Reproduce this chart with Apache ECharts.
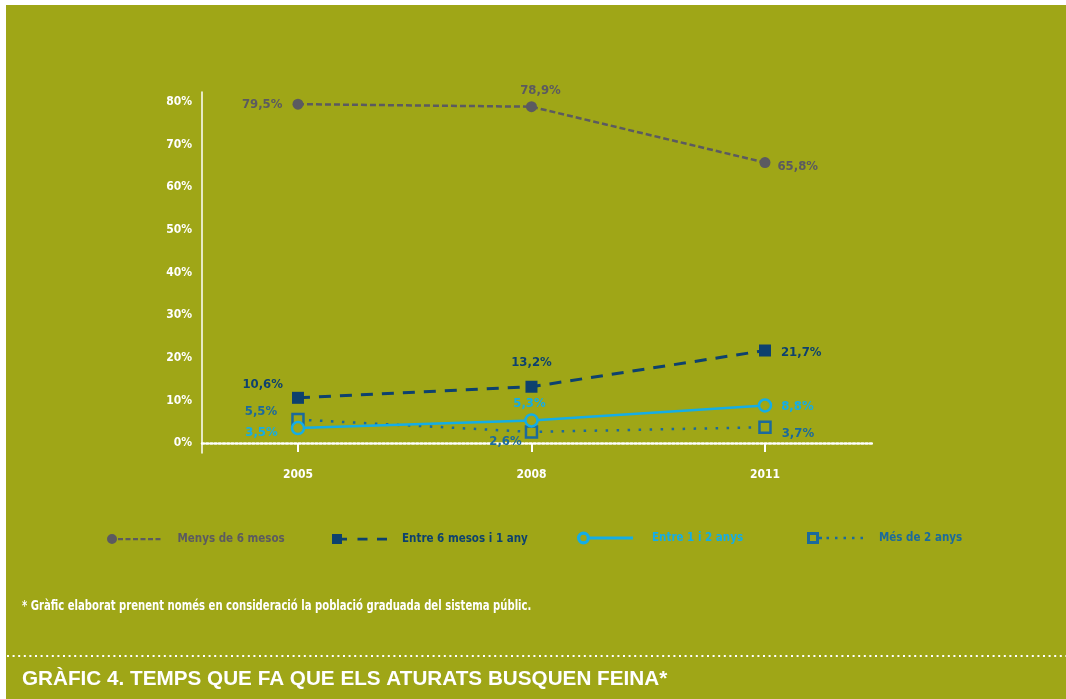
<!DOCTYPE html>
<html>
<head>
<meta charset="utf-8">
<script src="https://cdn.jsdelivr.net/npm/echarts@6/dist/echarts.min.js"></script>
<style>
  html, body { margin: 0; padding: 0; background: #ffffff; width: 1066px; height: 699px; overflow: hidden; }
  #panel { position: absolute; left: 6px; top: 5px; right: 0; bottom: 0; background: #9fa617; }
  #chart { position: absolute; left: 0; top: 0; width: 1066px; height: 699px; }
</style>
</head>
<body>
<div id="panel"></div>
<div id="chart"></div>
<script>
// ---- data ----
const years = [2005, 2008, 2011];
const seriesNames = ['Menys de 6 mesos', 'Entre 6 mesos i 1 any', 'Entre 1 i 2 anys', 'Més de 2 anys'];
const menys6mesos = [79.5, 78.9, 65.8];
const entre6mesos1any = [10.6, 13.2, 21.7];
const entre1i2anys = [3.5, 5.3, 8.8];
const mesDe2anys = [5.5, 2.6, 3.7];
const yTickValues = [0, 10, 20, 30, 40, 50, 60, 70, 80];
const footnote = '* Gràfic elaborat prenent només en consideració la població graduada del sistema públic.';
const chartTitle = 'GRÀFIC 4. TEMPS QUE FA QUE ELS ATURATS BUSQUEN FEINA*';

// ---- styles ----
const BG = '#9fa617';
const C_GREY = '#5b5a60';
const C_NAVY = '#0d416e';
const C_CYAN = '#14ade6';
const C_BLUE = '#1b6a9c';
const FONT = "'DejaVu Sans Condensed', 'Liberation Sans Narrow', sans-serif";

const allValues = [menys6mesos, entre6mesos1any, entre1i2anys, mesDe2anys];
const colors = [C_GREY, C_NAVY, C_CYAN, C_BLUE];

// label layout per point: [position, distance, offsetX, offsetY]
const labelLayout = [
  [['left', 10, 0, 0], ['top', 4, 9, 0], ['right', 7, 0, 4]],
  [['left', 9, 0, -13], ['top', 12, 0, 0], ['right', 10, 0, 2]],
  [['left', 13, 0, 5], ['top', 3, -2, 0], ['right', 9, 0, 1]],
  [['left', 14, 0, -8], ['left', 3, 0, 10], ['right', 10, 0, 6]]
];

function fmt(v) { return String(v).replace('.', ',') + '%'; }

function buildData(idx) {
  return years.map((y, i) => {
    const L = labelLayout[idx][i];
    return {
      value: [y, allValues[idx][i]],
      label: { position: L[0], distance: L[1], offset: [L[2], L[3]] }
    };
  });
}

const seriesStyles = [
  { symbol: 'circle', symbolSize: 11, itemStyle: { color: C_GREY }, lineStyle: { color: C_GREY, width: 2.5, type: [6, 3] } },
  { symbol: 'rect', symbolSize: 12, itemStyle: { color: C_NAVY }, lineStyle: { color: C_NAVY, width: 3, type: [12, 9] } },
  { symbol: 'circle', symbolSize: 12, itemStyle: { color: BG, borderColor: C_CYAN, borderWidth: 2.5 }, lineStyle: { color: C_CYAN, width: 2.5, type: 'solid' } },
  { symbol: 'rect', symbolSize: 11, itemStyle: { color: BG, borderColor: C_BLUE, borderWidth: 2.5 }, lineStyle: { color: C_BLUE, width: 2.5, type: [2.5, 8.5] } }
];

const series = seriesNames.map((name, idx) => Object.assign({
  name: name,
  type: 'line',
  data: buildData(idx),
  z: [2, 3, 5, 4][idx],
  label: {
    show: true,
    color: colors[idx],
    fontFamily: FONT,
    fontWeight: 'bold',
    fontSize: 13,
    formatter: p => fmt(p.value[1])
  },
  emphasis: { disabled: true },
  animation: false
}, seriesStyles[idx]));

// legend icons (path shapes drawn in each series colour)
const legendIcons = [
  'path://M0,5 A5,5 0 1,1 10,5 A5,5 0 1,1 0,5 Z M11,4 H16 V6.2 H11 Z M18.5,4 H23.5 V6.2 H18.5 Z M26,4 H31 V6.2 H26 Z M33.5,4 H38.5 V6.2 H33.5 Z M41,4 H46 V6.2 H41 Z M48.5,4 H53.5 V6.2 H48.5 Z',
  'path://M0,0 H10 V10 H0 Z M10,3.8 H15 V6.4 H10 Z M25.5,3.8 H35.5 V6.4 H25.5 Z M45,3.8 H55 V6.4 H45 Z',
  'path://M0,6.5 A6.5,6.5 0 1,1 13,6.5 A6.5,6.5 0 1,1 0,6.5 Z M3.3,6.5 A3.2,3.2 0 1,0 9.7,6.5 A3.2,3.2 0 1,0 3.3,6.5 Z M13,5.1 H56 V7.9 H13 Z',
  'path://M0,0 H12 V12 H0 Z M3,3 V9 H9 V3 Z M12,4.8 H15 V7.2 H12 Z M19.5,4.8 H22 V7.2 H19.5 Z M28,4.8 H30.5 V7.2 H28 Z M36.5,4.8 H39 V7.2 H36.5 Z M45,4.8 H47.5 V7.2 H45 Z M53.5,4.8 H56 V7.2 H53.5 Z'
];
const legendSizes = [[53.5, 10], [55, 10], [56, 13], [56, 12]];
const legendLeft = [107, 332, 577, 807];
const legendPad = [12, 10, 14, 11];

const legends = seriesNames.map((name, i) => ({
  data: [{ name: name, icon: legendIcons[i] }],
  left: legendLeft[i],
  top: 538 - legendSizes[i][1] / 2,
  itemWidth: legendSizes[i][0],
  itemHeight: legendSizes[i][1],
  itemGap: 0,
  padding: 0,
  selectedMode: false,
  itemStyle: { color: colors[i], borderWidth: 0 },
  formatter: '{t|{name}}',
  textStyle: {
    rich: {
      t: { padding: [0, 0, 0, legendPad[i]], color: colors[i], fontFamily: FONT, fontWeight: 'bold', fontSize: 11.5 }
    }
  }
}));

const chart = echarts.init(document.getElementById('chart'), null, { renderer: 'canvas' });
chart.setOption({
  backgroundColor: 'transparent',
  animation: false,
  title: [
    { text: chartTitle, left: 22, top: 669, padding: 0,
      textStyle: { color: '#ffffff', fontFamily: "'Liberation Sans', Arial, sans-serif", fontWeight: 'bold', fontSize: 20.7 } }
  ],
  graphic: [
    { type: 'text', left: 22, top: 599, scaleX: 0.8, silent: true,
      style: { text: footnote, fill: '#ffffff', font: "bold 14px 'DejaVu Sans Condensed', sans-serif" } },
    { type: 'line', shape: { x1: 7, y1: 656, x2: 1066, y2: 656 }, silent: true,
      style: { stroke: '#ffffff', lineWidth: 2.2, lineDash: [2, 3.6] } }
  ],
  legend: legends,
  grid: { left: 202, right: 194, top: 92, bottom: 246, containLabel: false },
  xAxis: {
    type: 'value',
    min: 2003.767,
    max: 2012.375,
    splitLine: { show: false },
    axisLine: { show: true, lineStyle: { color: '#ffffff', width: 2.5, type: [2, 2.2] } },
    axisTick: { show: true, customValues: years, length: 9, lineStyle: { color: '#ffffff', width: 2 } },
    axisLabel: { customValues: years, color: '#ffffff', fontFamily: FONT, fontWeight: 'bold', fontSize: 12, margin: 16,
      formatter: v => String(v) }
  },
  yAxis: {
    type: 'value',
    min: -2.346,
    max: 82.35,
    splitLine: { show: false },
    axisLine: { show: true, lineStyle: { color: '#ffffff', width: 1.5 } },
    axisTick: { show: false },
    axisLabel: { customValues: yTickValues, color: '#ffffff', fontFamily: FONT, fontWeight: 'bold', fontSize: 12, margin: 10,
      formatter: v => v + '%' }
  },
  series: series
});
</script>
</body>
</html>
